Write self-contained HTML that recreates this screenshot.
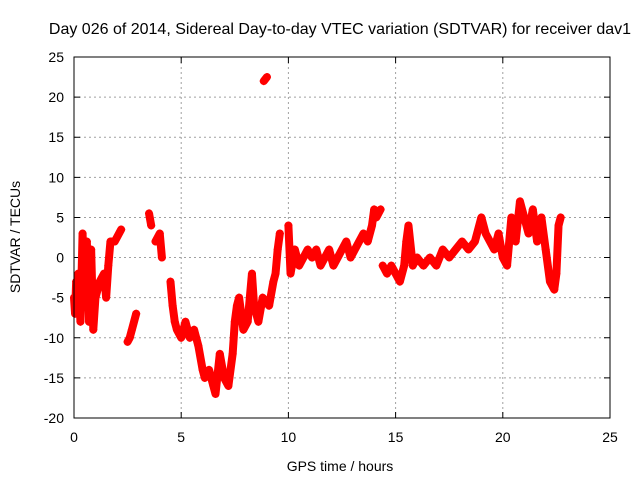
<!DOCTYPE html>
<html><head><meta charset="utf-8"><style>
body{margin:0;background:#fff;}
svg{display:block;font-family:"Liberation Sans",sans-serif;}
</style></head><body>
<svg id="chart" width="640" height="480" viewBox="0 0 640 480" xmlns="http://www.w3.org/2000/svg">
<rect width="640" height="480" fill="#fff"/>
<text x="340" y="34" font-size="16" text-anchor="middle">Day 026 of 2014, Sidereal Day-to-day VTEC variation (SDTVAR) for receiver dav1</text>
<text transform="translate(20,237) rotate(-90)" font-size="14" text-anchor="middle">SDTVAR / TECUs</text>
<text x="340" y="471" font-size="14" text-anchor="middle">GPS time / hours</text>
<g id="grid"></g><g id="ticks"></g><g id="marks"></g>
<rect x="74" y="57" width="536" height="361" fill="none" stroke="#000" stroke-width="1"/>
</svg>
<script>
const xTicks=[0,5,10,15,20,25];
const yTicks=[25,20,15,10,5,0,-5,-10,-15,-20];
const times=[0.0,0.05,0.1,0.15,0.2,0.3,0.4,0.5,0.6,0.7,0.8,0.9,1.0,1.2,1.4,1.5,1.6,1.7,1.9,2.1,2.2,null,
2.5,2.6,2.7,2.9,null,3.5,3.6,null,3.8,4.0,4.1,null,4.5,4.6,4.7,4.8,5.0,5.2,5.4,5.6,5.8,6.0,6.1,6.3,6.5,6.6,6.8,7.0,7.2,7.4,7.5,7.6,7.7,7.9,8.1,8.3,8.4,8.6,8.8,9.1,9.3,9.4,9.5,9.6,null,8.85,9.0,null,
10.0,10.1,10.3,10.5,10.7,10.9,11.1,11.3,11.5,11.7,11.9,12.1,12.3,12.5,12.7,12.9,13.1,13.3,13.5,13.7,13.9,14.0,14.1,14.3,null,14.4,14.6,14.8,15.0,15.2,15.4,15.5,15.6,15.8,16.0,16.3,16.6,16.9,17.2,17.5,17.8,18.1,18.4,18.7,19.0,19.2,19.4,19.6,19.8,20.0,20.2,20.4,20.6,20.8,21.0,21.2,21.4,21.6,21.8,22.0,22.2,22.4,22.5,22.6,22.7];
const values=[-5,-7,-3,-6,-2,-8,3,-5,2,-8,1,-9,-5,-3,-2,-5,-1,2,2,3,3.5,null,
-10.5,-10,-9,-7,null,5.5,4,null,2,3,0,null,-3,-6,-8,-9,-10,-8,-10,-9,-11,-14,-15,-14,-16,-17,-12,-15,-16,-12,-8,-6,-5,-9,-8,-2,-6,-8,-5,-6,-3,-2,1,3,null,22,22.5,null,
4,-2,1,-1,0,1,0,1,-1,0,1,-1,0,1,2,0,1,2,3,2,4,6,5,6,null,-1,-2,-1,-2,-3,-1,2,4,-1,0,-1,0,-1,1,0,1,2,1,2,5,3,2,1,3,0,-1,5,2,7,5,3,6,2,5,1,-3,-4,-2,4,5];
const X=t=>74+t*(536/25), Y=v=>418-(v+20)*(361/45);
const NS="http://www.w3.org/2000/svg";
const grid=document.getElementById('grid'),ticks=document.getElementById('ticks'),marks=document.getElementById('marks');
function mk(tag,attrs,parent){const e=document.createElementNS(NS,tag);for(const k in attrs)e.setAttribute(k,attrs[k]);parent.appendChild(e);return e;}
xTicks.forEach(t=>{const x=X(t);
 if(t>0&&t<25){const g=mk('line',{x1:x,x2:x,y1:57,y2:418,stroke:'#a0a0a0','stroke-dasharray':'2,3'},grid);
 }
 const tk=mk('path',{d:`M${x},418v-6M${x},57v6`,stroke:'#000'},ticks);
 
 const l=mk('text',{x:x,y:442,'font-size':14,'text-anchor':'middle'},ticks);l.textContent=t;
 });
yTicks.forEach(v=>{const y=Y(v);
 if(v>-20&&v<25){const g=mk('line',{x1:74,x2:610,y1:y,y2:y,stroke:'#a0a0a0','stroke-dasharray':'2,3'},grid);
 }
 const tk=mk('path',{d:`M74,${y}h6M610,${y}h-6`,stroke:'#000'},ticks);
 
 const l=mk('text',{x:64,y:y+5,'font-size':14,'text-anchor':'end'},ticks);l.textContent=v;
 });
let seg=[];
function flush(){if(seg.length>1){const p=mk('polyline',{points:seg.join(' '),fill:'none',stroke:'#f00','stroke-width':8,'stroke-linejoin':'round','stroke-linecap':'round'},marks);
 }seg=[];}
times.forEach((t,i)=>{const v=values[i];if(t===null||v===null){flush();return;}
 const x=X(t),y=Y(v);seg.push(x+','+y);
 const m=mk('path',{d:`M${x-4},${y}h8M${x},${y-4}v8`,stroke:'#f00','stroke-width':1.2},marks);
 });
flush();
</script>
</body></html>
